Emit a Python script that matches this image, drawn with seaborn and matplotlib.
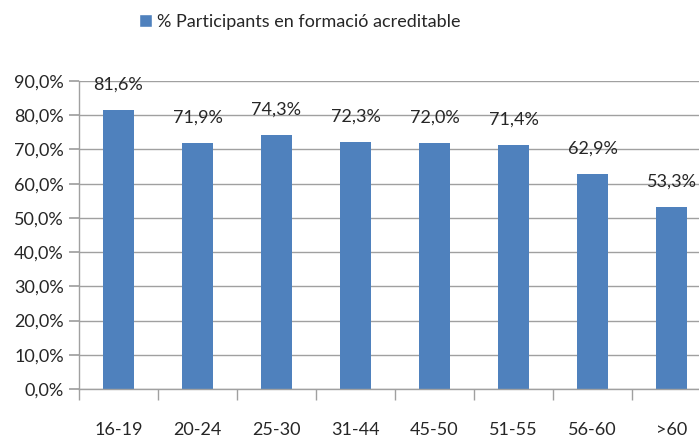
import matplotlib
matplotlib.use("Agg")
import matplotlib.pyplot as plt
import seaborn as sns
import pandas as pd
from matplotlib.patches import Patch
from matplotlib.ticker import FixedLocator, FuncFormatter

categories = ["16-19", "20-24", "25-30", "31-44", "45-50", "51-55", "56-60", ">60"]
values = [81.6, 71.9, 74.3, 72.3, 72.0, 71.4, 62.9, 53.3]
series_name = "% Participants en formació acreditable"

sns.set_theme(style="white")
plt.rcParams['font.family'] = ['Lato', 'DejaVu Sans']

df = pd.DataFrame({"cat": categories, "val": values})

fig = plt.figure(figsize=(6.99, 4.38), dpi=100)
ax = fig.add_axes([79/699, 49/438, 620/699, 308/438])
bar_color = "#4F81BD"
sns.barplot(data=df, x="cat", y="val", color=bar_color, width=0.4, ax=ax,
            saturation=1, edgecolor="none")

ax.set_xlim(-0.5, -0.5 + 620/79)
ax.set_ylim(0, 90)
ax.set_xlabel("")
ax.set_ylabel("")

ax.yaxis.set_major_locator(FixedLocator([i*10 for i in range(10)]))
ax.yaxis.set_major_formatter(FuncFormatter(lambda v, p: f"{v:.1f}".replace(".", ",") + "%"))
ax.grid(axis="y", color="#a0a0a0", linewidth=1)
ax.set_axisbelow(True)

for s in ["top", "right"]:
    ax.spines[s].set_visible(False)
for s in ["left", "bottom"]:
    ax.spines[s].set_color("#a0a0a0")
    ax.spines[s].set_linewidth(1)

ax.tick_params(axis="y", which="major", length=7, color="#a0a0a0", labelsize=13, pad=4, left=True)
ax.xaxis.set_minor_locator(FixedLocator([i - 0.5 for i in range(len(categories) + 1)]))
ax.tick_params(axis="x", which="major", length=0, labelsize=13, pad=24)
ax.tick_params(axis="x", which="minor", length=8, color="#a0a0a0", bottom=True)

for i, v in enumerate(values):
    ax.annotate(f"{v:.1f}".replace(".", ",") + "%", (i, v), xytext=(0, 18),
                textcoords="offset points", ha="center", va="center",
                fontsize=13, annotation_clip=False, color="#262626")

for lbl in ax.get_yticklabels() + ax.get_xticklabels():
    lbl.set_color("#262626")

fig.legend(handles=[Patch(facecolor=bar_color, label=series_name)],
           loc="center", bbox_to_anchor=(300/699, 1 - 22/438), frameon=False,
           fontsize=13, handlelength=0.7, handleheight=0.7, handletextpad=0.3,
           labelcolor="#262626")

fig.savefig("out.png", dpi=100)
